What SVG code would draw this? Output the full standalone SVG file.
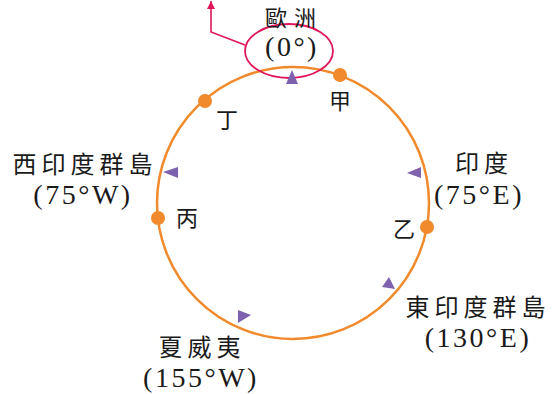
<svg xmlns="http://www.w3.org/2000/svg" width="557" height="394" viewBox="0 0 557 394">
<defs>
<style>
.cjk{font-family:"Noto Sans CJK TC","Noto Sans CJK SC",sans-serif;font-size:24px;fill:#1a1a1a;letter-spacing:5px}
.num{font-family:"Liberation Serif","Noto Sans CJK TC",serif;font-size:28px;fill:#1a1a1a;letter-spacing:2.5px}
.lab{font-family:"Noto Sans CJK TC","Noto Sans CJK SC",sans-serif;font-size:22px;fill:#1a1a1a}
.dot{fill:#f08a2c}
.tri{fill:#7f62ad}
</style>
<marker id="ah" viewBox="0 0 10 10" refX="10" refY="5" markerWidth="9" markerHeight="8" orient="auto" markerUnits="userSpaceOnUse">
<path d="M0,0 L10,5 L0,10 Z" fill="#e0165a"/>
</marker>
</defs>
<rect width="557" height="394" fill="#fff"/>
<g id="connectors">
<circle cx="293" cy="203" r="136" fill="none" stroke="#f08a2c" stroke-width="2.5"/>
<polyline points="245,45 211,32 211,1" fill="none" stroke="#e0165a" stroke-width="1.6" marker-end="url(#ah)"/>
<ellipse cx="289" cy="51" rx="44" ry="27" fill="none" stroke="#e0165a" stroke-width="1.8"/>
<polygon class="tri" points="292,70 286,84 298,84"/>
<polygon class="tri" points="163,172 178,167 178,178"/>
<polygon class="tri" points="407,173 421,167 421,178"/>
<polygon class="tri" points="389,277 382,287 395,289"/>
<polygon class="tri" points="238,310 238,323 251,315"/>
</g>
<g id="europe">
<text class="cjk" x="294" y="26" text-anchor="middle" style="font-size:22px;letter-spacing:7px">歐洲</text>
<text class="num" x="292" y="56" text-anchor="middle">(0°)</text>
</g>
<g id="jia"><circle class="dot" cx="340" cy="75" r="7"/><text class="lab" x="329" y="109">甲</text></g>
<g id="ding"><circle class="dot" cx="205" cy="101" r="7"/><text class="lab" x="216" y="128">丁</text></g>
<g id="bing"><circle class="dot" cx="158" cy="218" r="7"/><text class="lab" x="176" y="226">丙</text></g>
<g id="yi"><circle class="dot" cx="427" cy="227" r="7"/><text class="lab" x="393" y="237">乙</text></g>
<g id="west-indies">
<text class="cjk" x="85" y="173" text-anchor="middle">西印度群島</text>
<text class="num" x="83" y="204" text-anchor="middle">(75°W)</text>
</g>
<g id="india">
<text class="cjk" x="484" y="172" text-anchor="middle">印度</text>
<text class="num" x="479" y="204" text-anchor="middle">(75°E)</text>
</g>
<g id="east-indies">
<text class="cjk" x="478" y="316" text-anchor="middle">東印度群島</text>
<text class="num" x="478" y="347" text-anchor="middle">(130°E)</text>
</g>
<g id="hawaii">
<text class="cjk" x="202" y="356" text-anchor="middle">夏威夷</text>
<text class="num" x="201" y="387" text-anchor="middle">(155°W)</text>
</g>
</svg>
